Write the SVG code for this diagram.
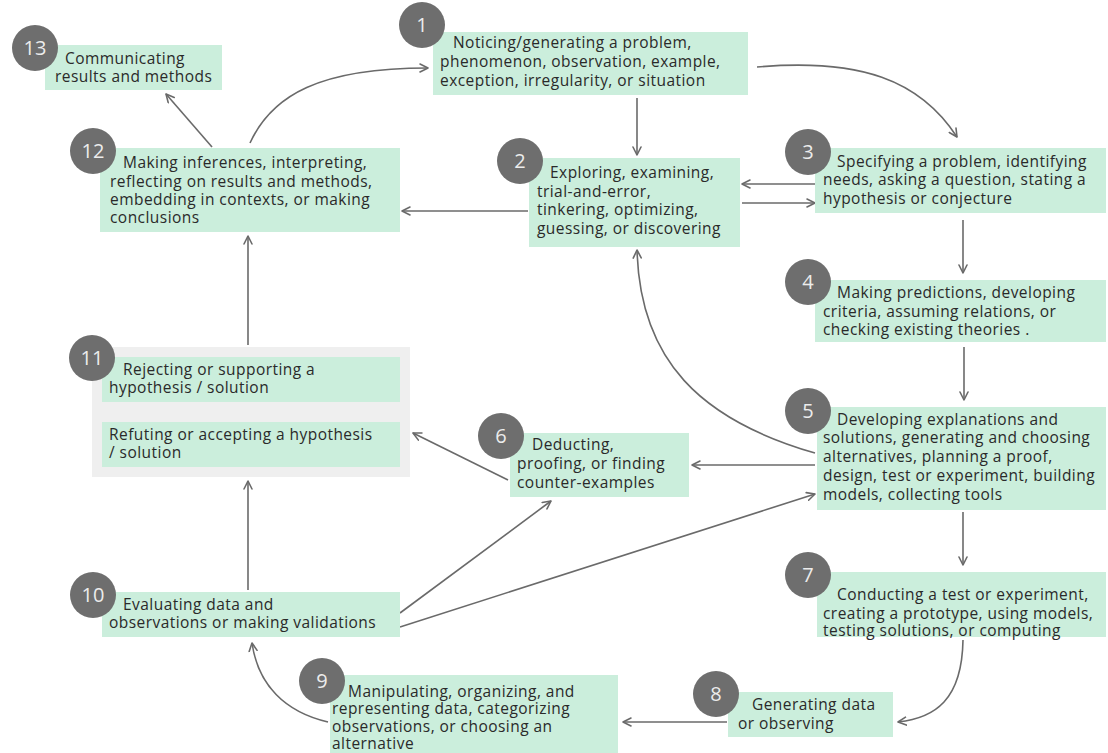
<svg xmlns="http://www.w3.org/2000/svg" width="1108" height="753" viewBox="0 0 1108 753">
<defs>
<marker id="arr" viewBox="0 0 10 10" refX="9" refY="5" markerWidth="10" markerHeight="10" markerUnits="userSpaceOnUse" orient="auto">
<path d="M1,1 L9,5 L1,9" fill="none" stroke="#6a6a6a" stroke-width="1.6" stroke-linecap="round" stroke-linejoin="round"/>
</marker>
</defs>
<style>
.box{fill:#cbeedc}
.outer{fill:#efefef}
.num{fill:#6e6e6e}
.nt{fill:#ececec;font-family:"Open Sans","Liberation Sans",sans-serif;font-size:20px;text-anchor:middle}
.t{fill:#2a2a2a;font-family:"Open Sans","Liberation Sans",sans-serif;font-size:15.5px;letter-spacing:0.45px}
.c{fill:none;stroke:#6a6a6a;stroke-width:1.6;marker-end:url(#arr)}
</style>
<rect width="1108" height="753" fill="#ffffff"/>
<g id="connectors">
<path class="c" d="M212,147 L166,94"/>
<path class="c" d="M250,143 C272,95 320,68 428,68"/>
<path class="c" d="M757,67 C860,58 920,80 957,137"/>
<path class="c" d="M637,98 L637,155"/>
<path class="c" d="M815,184 L742,184"/>
<path class="c" d="M742,203 L815,203"/>
<path class="c" d="M528,211 L402,211"/>
<path class="c" d="M963,220 L963,273"/>
<path class="c" d="M964,347 L964,400"/>
<path class="c" d="M815,453 C700,420 640,360 637,250"/>
<path class="c" d="M815,465 L692,465"/>
<path class="c" d="M400,613 L551,501"/>
<path class="c" d="M400,627 L815,494"/>
<path class="c" d="M508,480 L413,433"/>
<path class="c" d="M248,345 L248,236"/>
<path class="c" d="M248,590 L248,481"/>
<path class="c" d="M963,512 L963,565"/>
<path class="c" d="M963,640 C962,700 935,718 898,722"/>
<path class="c" d="M727,722 L623,722"/>
<path class="c" d="M328,722 C285,712 258,685 252,643"/>
</g>
<g id="node13">
<rect class="box" x="45" y="45" width="177" height="45"/>
<text class="t" x="65" y="64">Communicating</text>
<text class="t" x="55" y="82">results and methods</text>
<circle class="num" cx="35" cy="48" r="23"/>
<text class="nt" x="35" y="55">13</text>
</g>
<g id="node12">
<rect class="box" x="100" y="148" width="300" height="84"/>
<text class="t" x="123" y="168">Making inferences, interpreting,</text>
<text class="t" x="110" y="187">reflecting on results and methods,</text>
<text class="t" x="110" y="205">embedding in contexts, or making</text>
<text class="t" x="110" y="223">conclusions</text>
<circle class="num" cx="93" cy="151" r="23"/>
<text class="nt" x="93" y="158">12</text>
</g>
<g id="node1">
<rect class="box" x="433" y="32" width="315" height="63"/>
<text class="t" x="453" y="48">Noticing/generating a problem,</text>
<text class="t" x="440" y="67">phenomenon, observation, example,</text>
<text class="t" x="440" y="86">exception, irregularity, or situation</text>
<circle class="num" cx="422" cy="25" r="23"/>
<text class="nt" x="422" y="32">1</text>
</g>
<g id="node2">
<rect class="box" x="529" y="158" width="211" height="89"/>
<text class="t" x="550" y="178">Exploring, examining,</text>
<text class="t" x="537" y="197">trial-and-error,</text>
<text class="t" x="537" y="215">tinkering, optimizing,</text>
<text class="t" x="537" y="234">guessing, or discovering</text>
<circle class="num" cx="520" cy="161" r="23"/>
<text class="nt" x="520" y="168">2</text>
</g>
<g id="node3">
<rect class="box" x="815" y="148" width="291" height="65"/>
<text class="t" x="837" y="167">Specifying a problem, identifying</text>
<text class="t" x="823" y="185">needs, asking a question, stating a</text>
<text class="t" x="823" y="204">hypothesis or conjecture</text>
<circle class="num" cx="808" cy="152" r="23"/>
<text class="nt" x="808" y="159">3</text>
</g>
<g id="node4">
<rect class="box" x="815" y="280" width="291" height="62"/>
<text class="t" x="837" y="298">Making predictions, developing</text>
<text class="t" x="823" y="317">criteria, assuming relations, or</text>
<text class="t" x="823" y="335">checking existing theories .</text>
<circle class="num" cx="808" cy="282" r="23"/>
<text class="nt" x="808" y="289">4</text>
</g>
<g id="node5">
<rect class="box" x="817" y="407" width="289" height="103"/>
<text class="t" x="837" y="425">Developing explanations and</text>
<text class="t" x="823" y="443">solutions, generating and choosing</text>
<text class="t" x="823" y="462">alternatives, planning a proof,</text>
<text class="t" x="823" y="481">design, test or experiment, building</text>
<text class="t" x="823" y="500">models, collecting tools</text>
<circle class="num" cx="808" cy="411" r="23"/>
<text class="nt" x="808" y="418">5</text>
</g>
<g id="node6">
<rect class="box" x="510" y="433" width="179" height="64"/>
<text class="t" x="532" y="450">Deducting,</text>
<text class="t" x="517" y="469">proofing, or finding</text>
<text class="t" x="517" y="488">counter-examples</text>
<circle class="num" cx="501" cy="436" r="23"/>
<text class="nt" x="501" y="443">6</text>
</g>
<g id="node11">
<rect class="outer" x="92" y="347" width="318" height="130"/>
<rect class="box" x="102" y="357" width="298" height="45"/>
<rect class="box" x="102" y="422" width="298" height="45"/>
<text class="t" x="123" y="375">Rejecting or supporting a</text>
<text class="t" x="109" y="393">hypothesis / solution</text>
<text class="t" x="109" y="440">Refuting or accepting a hypothesis</text>
<text class="t" x="109" y="458">/ solution</text>
<circle class="num" cx="92" cy="358" r="23"/>
<text class="nt" x="92" y="365">11</text>
</g>
<g id="node10">
<rect class="box" x="102" y="592" width="298" height="45"/>
<text class="t" x="123" y="610">Evaluating data and</text>
<text class="t" x="109" y="628">observations or making validations</text>
<circle class="num" cx="93" cy="595" r="23"/>
<text class="nt" x="93" y="602">10</text>
</g>
<g id="node9">
<rect class="box" x="330" y="675" width="288" height="78"/>
<text class="t" x="348" y="697">Manipulating, organizing, and</text>
<text class="t" x="332" y="714">representing data, categorizing</text>
<text class="t" x="332" y="732">observations, or choosing an</text>
<text class="t" x="332" y="749">alternative</text>
<circle class="num" cx="322" cy="681" r="23"/>
<text class="nt" x="322" y="688">9</text>
</g>
<g id="node8">
<rect class="box" x="728" y="692" width="165" height="45"/>
<text class="t" x="752" y="710">Generating data</text>
<text class="t" x="738" y="729">or observing</text>
<circle class="num" cx="716" cy="694" r="23"/>
<text class="nt" x="716" y="701">8</text>
</g>
<g id="node7">
<rect class="box" x="817" y="572" width="289" height="65"/>
<text class="t" x="837" y="600">Conducting a test or experiment,</text>
<text class="t" x="823" y="619">creating a prototype, using models,</text>
<text class="t" x="823" y="636">testing solutions, or computing</text>
<circle class="num" cx="808" cy="575" r="23"/>
<text class="nt" x="808" y="582">7</text>
</g>
</svg>
